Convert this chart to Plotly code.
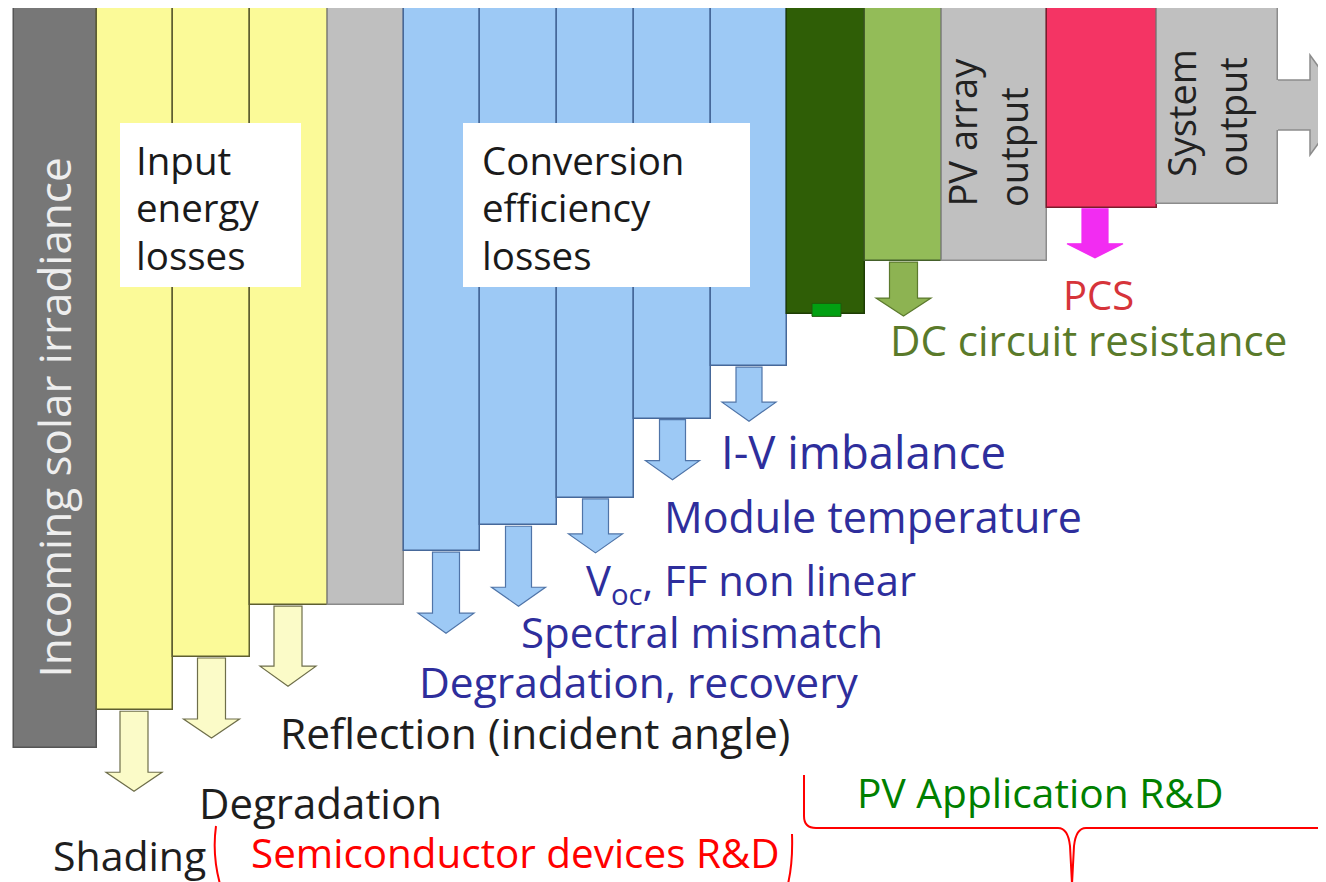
import plotly.graph_objects as go

# ------------------------------------------------------------------ data
stage_names = [
    "Incoming solar irradiance", "After shading", "After degradation",
    "After reflection", "Input energy", "After degradation, recovery",
    "After spectral mismatch", "After Voc, FF non linear",
    "After module temperature", "After I-V imbalance", "DC module output",
    "After DC circuit resistance", "PV array output", "After PCS", "System output",
]
# remaining energy (% of incoming)
remaining_pct = [100.0, 94.9, 87.7, 80.7, 80.7, 73.4, 69.9, 66.2,
                 55.5, 48.4, 41.4, 34.2, 34.2, 27.0, 26.5]

loss_names = ["Shading", "Degradation", "Reflection (incident angle)",
              "Degradation, recovery", "Spectral mismatch", "Voc, FF non linear",
              "Module temperature", "I-V imbalance", "DC circuit resistance", "PCS"]
loss_stage = [1, 2, 3, 5, 6, 7, 8, 9, 11, 13]

# ------------------------------------------------------------------ layout / style
W, H = 1326, 882
PAGE_OFF = 8          # default body margin of the html page
TOP_PX = 8.0
PX_PER_PCT = 7.4
col_edges = [14, 97, 173, 250, 328, 404, 480, 557, 634, 711, 787, 865, 942, 1047, 1157, 1278]

fill_colors = ["#777777", "#fbfa98", "#fbfa98", "#fbfa98", "#bfbfbf",
               "#9dc9f5", "#9dc9f5", "#9dc9f5", "#9dc9f5", "#9dc9f5",
               "#2f5e06", "#93bc58", "#c0c0c0", "#f43464", "#c0c0c0"]
line_colors = ["#555555", "#5e5e30", "#5e5e30", "#5e5e30", "#8a8a8a",
               "#46689a", "#46689a", "#46689a", "#46689a", "#46689a",
               "#1e3d04", "#44602a", "#8c8c8c", "#7a1c2c", "#8c8c8c"]

# arrow styling per loss (pixel lengths / widths / colours)
arr_len = [80, 80, 80, 81, 80, 54, 60, 54, 54, 49]
arr_dx = [-1, 0, -1, 4, 0, 0, 0, 0, 0, -7]
arr_shaft = [28, 28, 28, 27, 26, 26, 26, 26, 28, 26]
arr_head = [56, 56, 56, 56, 54, 54, 54, 54, 55, 56]
arr_headh = [19, 19, 20, 20, 19, 19, 19, 19, 18, 14]
arr_fill = ["#fbfbc8"] * 3 + ["#9dc9f5"] * 5 + ["#8db352", "#f22cf2"]
arr_line = ["#6e6e4a"] * 3 + ["#4f74a8"] * 5 + ["#5c7a2e", "#f22cf2"]


def Y(px):
    return (px - TOP_PX) / PX_PER_PCT


def level_px(level):
    return TOP_PX + level * PX_PER_PCT


centers = [(a + b) / 2 for a, b in zip(col_edges[:-1], col_edges[1:])]
widths = [b - a for a, b in zip(col_edges[:-1], col_edges[1:])]

fig = go.Figure()
fig.add_trace(go.Bar(
    x=centers, y=remaining_pct, base=0, width=widths,
    marker=dict(color=fill_colors, line=dict(color=line_colors, width=1.5)),
    hovertext=stage_names, hoverinfo="text", showlegend=False,
))

shapes = []


def path_from(points, close=True):
    s = "M " + " L ".join(f"{x},{Y(y)}" for x, y in points)
    return s + (" Z" if close else "")


# white label boxes
for x0, x1 in [(120, 301), (463, 750)]:
    shapes.append(dict(type="rect", xref="x", yref="y", x0=x0, x1=x1,
                       y0=Y(123), y1=Y(287), fillcolor="white", line=dict(width=0),
                       layer="above"))

# system-output arrow head
ax = col_edges[-1]
arrow_pts = [(ax, 80), (1310, 80), (1310, 55), (1346, 105), (1310, 155), (1310, 130), (ax, 130)]
shapes.append(dict(type="path", xref="x", yref="y",
                   path=path_from([(ax - 2, 80)] + arrow_pts[1:-1] + [(ax - 2, 130)]),
                   fillcolor="#c0c0c0", line=dict(width=0), layer="above"))
shapes.append(dict(type="path", xref="x", yref="y", path=path_from(arrow_pts, close=False),
                   line=dict(color="#8c8c8c", width=1.5), layer="above"))

# loss arrows, hanging from the bar bottoms
for i, st in enumerate(loss_stage):
    cx = centers[st] + arr_dx[i]
    y0 = level_px(remaining_pct[st]) + 1
    L, sw, hw, hh = arr_len[i], arr_shaft[i], arr_head[i], arr_headh[i]
    pts = [(cx - sw / 2, y0), (cx - sw / 2, y0 + L - hh), (cx - hw / 2, y0 + L - hh),
           (cx, y0 + L), (cx + hw / 2, y0 + L - hh), (cx + sw / 2, y0 + L - hh),
           (cx + sw / 2, y0)]
    shapes.append(dict(type="path", xref="x", yref="y", path=path_from(pts),
                       fillcolor=arr_fill[i], line=dict(color=arr_line[i], width=1.2),
                       layer="above"))

# small green marker at the bottom of the DC module bar
dc_bottom = level_px(remaining_pct[10])
shapes.append(dict(type="rect", xref="x", yref="y", x0=812, x1=841,
                   y0=Y(dc_bottom - 11), y1=Y(dc_bottom + 2), fillcolor="#02a012",
                   line=dict(color="#1e5a0a", width=1), layer="above"))

# red brackets
red = "#ff0000"
brace = ("M 804,{a} L 804,{b} Q 804,{c} 816,{c} L 1058,{c} Q 1068,{c} 1070,{d} L 1072,{e} "
         "L 1074,{d} Q 1076,{c} 1086,{c} L 1330,{c}").format(
    a=Y(775), b=Y(816), c=Y(828), d=Y(846), e=Y(884))
shapes.append(dict(type="path", xref="x", yref="y", path=brace,
                   line=dict(color=red, width=2), layer="above"))
shapes.append(dict(type="path", xref="x", yref="y",
                   path=f"M 216,{Y(826)} Q 212,{Y(855)} 220,{Y(884)}",
                   line=dict(color=red, width=2), layer="above"))
shapes.append(dict(type="path", xref="x", yref="y",
                   path=f"M 792,{Y(834)} Q 793,{Y(862)} 788,{Y(884)}",
                   line=dict(color=red, width=2), layer="above"))

ann = []
FONT = "Open Sans"


def text(t, x, baseline, size, color, anchor="left", family=FONT):
    ann.append(dict(text=t, x=x, y=Y(baseline - 0.37 * size), xref="x", yref="y",
                    xanchor=anchor, yanchor="middle", showarrow=False,
                    font=dict(family=family, size=size, color=color)))


def vtext(t, xc, bottom_px, size, color, anchor="bottom"):
    ann.append(dict(text=t, x=xc, y=Y(bottom_px), xref="x", yref="y", textangle=-90,
                    xanchor="center", yanchor=anchor, showarrow=False,
                    font=dict(family=FONT, size=size, color=color)))


# rotated stage labels
ann.append(dict(text=stage_names[0], x=centers[0] - 2, y=Y(418), xref="x", yref="y",
                textangle=-90, xanchor="center", yanchor="middle", showarrow=False,
                font=dict(family=FONT, size=44, color="#eeeeee")))
vtext("PV array", 961, 209, 38, "#222222")
vtext("output", 1013, 209, 38, "#222222")
vtext("System", 1181, 179, 38, "#222222")
vtext("output", 1232, 179, 38, "#222222")

# box texts
for i, w in enumerate(["Input", "energy", "losses"]):
    text(w, 134, 174 + 47.5 * i, 38.5, "#1a1a1a")
for i, w in enumerate(["Conversion", "efficiency", "losses"]):
    text(w, 480, 174 + 47.5 * i, 38.5, "#1a1a1a")

navy = "#2e2e9c"
text("PCS", 1098, 309, 40, "#d6343a", anchor="center")
text(loss_names[8], 888, 355, 42, "#5a7a2a")
text(loss_names[7], 719, 468, 45.5, navy)
text(loss_names[6], 662, 532, 43, navy)
text("V<sub>oc</sub>, FF non linear", 584, 598, 41.8, navy)
text(loss_names[4], 519, 647, 42, navy)
text(loss_names[3], 417, 697, 42.5, navy)
text(loss_names[2], 278, 748, 42.5, "#1e1e1e")
text(loss_names[1], 197, 818, 42, "#1e1e1e")
text(loss_names[0], 51, 870, 41, "#1e1e1e")

text("Semiconductor devices R&amp;D", 249, 867, 40.4, red)
text("PV Application R&amp;D", 855, 807, 40.7, "#008000")

fig.update_layout(
    width=W - PAGE_OFF, height=H - PAGE_OFF, margin=dict(l=0, r=0, t=0, b=0),
    paper_bgcolor="white", plot_bgcolor="white",
    xaxis=dict(range=[PAGE_OFF, W], visible=False, fixedrange=True),
    yaxis=dict(range=[Y(H), Y(PAGE_OFF)], visible=False, fixedrange=True),
    shapes=shapes, annotations=ann, bargap=0,
)
fig.write_html("out.html")
